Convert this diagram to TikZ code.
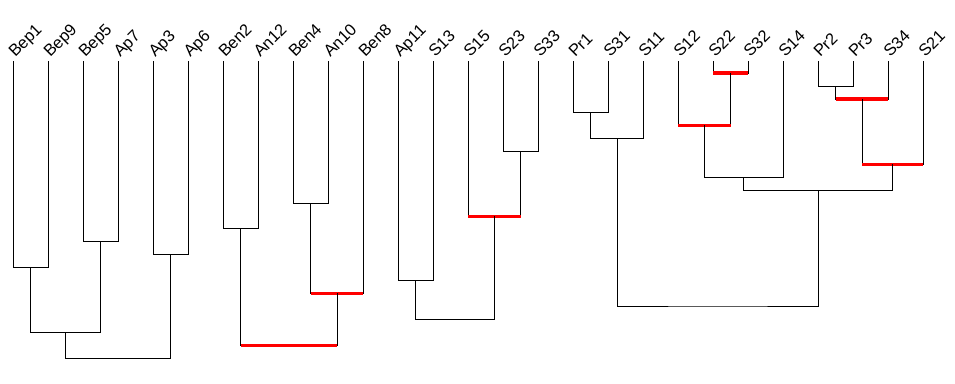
\documentclass[tikz,border=0pt]{standalone}
\usepackage{fontspec}
\setmainfont{Liberation Sans}
\usetikzlibrary{calc}

\tikzset{
  link/.style={black,line width=1pt},
  redbar/.style={red,line width=3.6pt},
  lbl/.style={rotate=45,anchor=base west,inner sep=0pt,font=\fontsize{16.5}{16.5}\selectfont}
}
% merge: name, left child, right child, height
\newcommand{\dmerge}[4]{%
  \path let \p1=(#2), \p2=(#3) in coordinate (#1) at ({(\x1+\x2)/2},#4);
  \draw[link] (#2) |- (#1) -| (#3);
}
\newcommand{\rmerge}[4]{%
  \dmerge{#1}{#2}{#3}{#4}
  \draw[redbar] (#2 |- #1) -- (#3 |- #1);
}

\begin{document}
\begin{tikzpicture}[x=1pt,y=-1pt]
\useasboundingbox (0,0) rectangle (955,383);
\foreach \n [count=\i from 0] in %
{Bep1,Bep9,Bep5,Ap7,Ap3,Ap6,Ben2,An12,Ben4,An10,Ben8,Ap11,S13,S15,%
 S23,S33,Pr1,S31,S11,S12,S22,S32,S14,Pr2,Pr3,S34,S21} {
   \coordinate (\n) at (13.3+35*\i,61);
   \node[lbl] (l\n) at (15.3+35*\i,58) {\n};
}
% first group
\dmerge{m1}{Bep1}{Bep9}{267.3}
\dmerge{m2}{Bep5}{Ap7}{241.3}
\dmerge{m3}{Ap3}{Ap6}{254.3}
\dmerge{m4}{m1}{m2}{332.3}
\dmerge{m5}{m4}{m3}{358.3}
% second group
\dmerge{m6}{Ben2}{An12}{228.3}
\dmerge{m7}{Ben4}{An10}{203.3}
\rmerge{m8}{m7}{Ben8}{293.3}
\rmerge{m9}{m6}{m8}{345.3}
% third group
\dmerge{m10}{Ap11}{S13}{280.3}
\dmerge{m11}{S23}{S33}{151.3}
\rmerge{m12}{S15}{m11}{216.3}
\dmerge{m13}{m10}{m12}{319.3}
% fourth group
\dmerge{m14}{Pr1}{S31}{112.3}
\dmerge{m15}{m14}{S11}{138.3}
\rmerge{m16}{S22}{S32}{73}
\rmerge{m17}{S12}{m16}{125.3}
\dmerge{m18}{m17}{S14}{177.3}
\dmerge{m19}{Pr2}{Pr3}{86.3}
\rmerge{m20}{m19}{S34}{99}
\rmerge{m21}{m20}{S21}{164.3}
\dmerge{m22}{m18}{m21}{190.3}
\dmerge{m23}{m15}{m22}{306}
\end{tikzpicture}
\end{document}
